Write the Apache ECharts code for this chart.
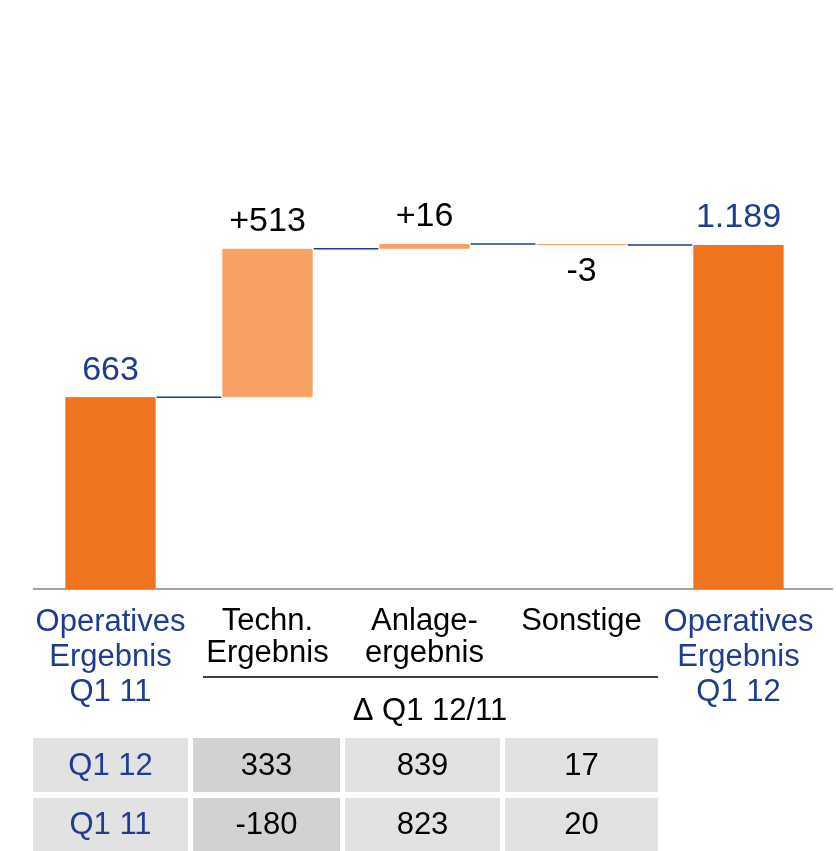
<!DOCTYPE html>
<html>
<head>
<meta charset="utf-8">
<script src="https://cdn.jsdelivr.net/npm/echarts@6/dist/echarts.min.js"></script>
<style>
  html, body { margin: 0; padding: 0; background: #fff; }
  #main { width: 836px; height: 851px; }
</style>
</head>
<body>
<div id="main"></div>
<script>
// waterfall data
var categories = ['Operatives\nErgebnis\nQ1 11', 'Techn.\nErgebnis', 'Anlage-\nergebnis', 'Sonstige', 'Operatives\nErgebnis\nQ1 12'];
var isTotal = [true, false, false, false, true];
var baseValues = [0, 663, 1176, 1189, 0];
var barValues = [663, 513, 16, 3, 1189];
var levelAfter = [663, 1176, 1192, 1189, 1189];
var valueLabels = ['663', '+513', '+16', '-3', '1.189'];

// table below
var tableRowNames = ['Q1 12', 'Q1 11'];
var technValues = ['333', '-180'];
var anlageValues = ['839', '823'];
var sonstigeValues = ['17', '20'];
var deltaTitle = '\u0394 Q1 12/11';

var FONT = '"Liberation Sans", Arial, sans-serif';
var BLUE = '#1f3c8f';
var ORANGE = '#f07320';
var LIGHT = '#f7a264';

var myChart = echarts.init(document.getElementById('main'));

// connector lines between bars
function renderConnector(params, api) {
    var i = api.value(0);
    if (i >= categories.length - 1) return null;
    var lvl = api.value(1);
    var half = api.size([1, 0])[0] * 0.575 / 2;
    var p1 = api.coord([i, lvl]);
    var p2 = api.coord([i + 1, lvl]);
    return {
        type: 'line',
        shape: { x1: p1[0] + half + 1, y1: p1[1], x2: p2[0] - half - 1, y2: p2[1] },
        style: { stroke: BLUE, lineWidth: 1.5 }
    };
}

// table graphics
var colX = [[33, 188], [193, 340], [345, 500], [505, 658]];
var rowY = [[738, 792], [798, 851]];
var graphics = [];
tableRowNames.forEach(function (name, r) {
    var cells = [name, technValues[r], anlageValues[r], sonstigeValues[r]];
    cells.forEach(function (txt, c) {
        var x = colX[c][0], w = colX[c][1] - colX[c][0];
        var y = rowY[r][0], h = rowY[r][1] - rowY[r][0];
        graphics.push({
            type: 'rect',
            shape: { x: x, y: y, width: w, height: h },
            style: { fill: c === 1 ? '#d2d2d2' : '#e2e2e2' },
            silent: true
        });
        graphics.push({
            type: 'text',
            x: x + w / 2, y: y + h / 2 + 1,
            style: {
                text: txt, fill: c === 0 ? BLUE : '#000',
                font: '31px ' + FONT, align: 'center', verticalAlign: 'middle'
            },
            silent: true
        });
    });
});
// axis baseline, group line and delta caption
graphics.push({
    type: 'line',
    shape: { x1: 33, y1: 589, x2: 833, y2: 589 },
    style: { stroke: '#3f4a60', lineWidth: 1 }
});
graphics.push({
    type: 'line',
    shape: { x1: 203, y1: 677, x2: 658, y2: 677 },
    style: { stroke: '#000', lineWidth: 1.5 }
});
graphics.push({
    type: 'text',
    x: 430, y: 711,
    style: { text: deltaTitle, fill: '#000', font: '31px ' + FONT, align: 'center', verticalAlign: 'middle' }
});

var option = {
    animation: false,
    textStyle: { fontFamily: FONT },
    grid: { left: 32, right: 19, top: 155, bottom: 262 },
    xAxis: {
        type: 'category',
        data: categories,
        axisLine: { show: false },
        axisTick: { show: false },
        axisLabel: {
            interval: 0,
            margin: 16,
            formatter: function (value, idx) {
                var key = isTotal[idx] ? 'b' : 'k';
                return value.split('\n').map(function (s) { return '{' + key + '|' + s + '}'; }).join('\n');
            },
            rich: {
                b: { color: BLUE, fontSize: 31, lineHeight: 35, fontFamily: FONT },
                k: { color: '#000', fontSize: 31, lineHeight: 32, fontFamily: FONT }
            }
        }
    },
    yAxis: {
        type: 'value',
        min: 0,
        max: 1500,
        show: false,
        splitLine: { show: false }
    },
    series: [
        {
            type: 'bar',
            stack: 'wf',
            barWidth: '57.5%',
            itemStyle: { color: 'transparent' },
            silent: true,
            data: baseValues
        },
        {
            type: 'bar',
            stack: 'wf',
            barWidth: '57.5%',
            data: barValues.map(function (v, i) {
                return {
                    value: v,
                    itemStyle: {
                        color: isTotal[i] ? ORANGE : LIGHT,
                        borderColor: isTotal[i] ? ORANGE : LIGHT,
                        borderWidth: 1
                    },
                    label: {
                        show: true,
                        position: valueLabels[i].charAt(0) === '-' ? 'bottom' : 'top',
                        distance: 10,
                        formatter: valueLabels[i],
                        color: isTotal[i] ? BLUE : '#000',
                        fontSize: 34,
                        fontFamily: FONT
                    }
                };
            })
        },
        {
            type: 'custom',
            renderItem: renderConnector,
            silent: true,
            data: levelAfter.map(function (v, i) { return [i, v]; }),
            z: 3
        }
    ],
    graphic: graphics
};

myChart.setOption(option, true);
</script>
</body>
</html>
